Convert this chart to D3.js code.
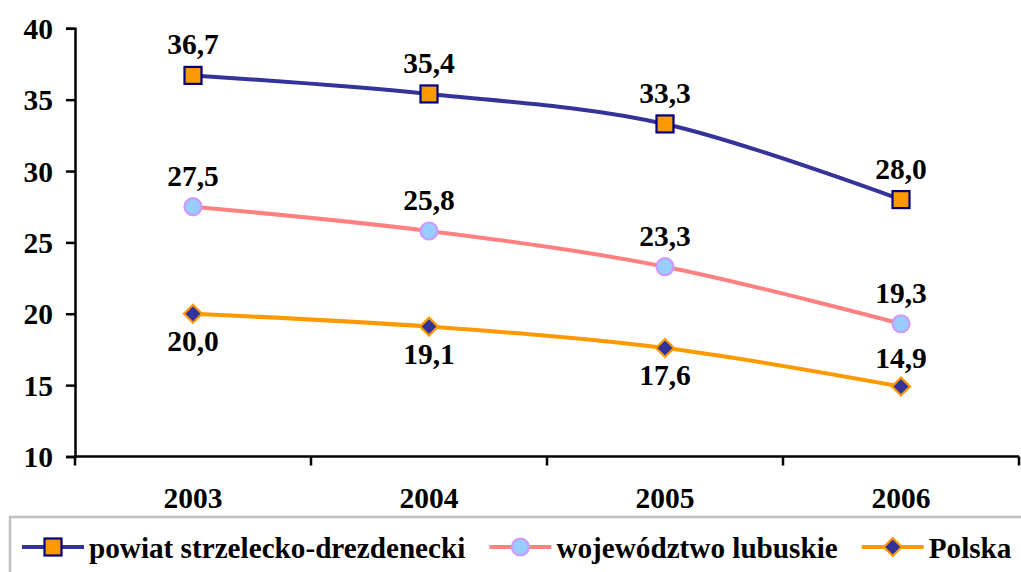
<!DOCTYPE html>
<html><head><meta charset="utf-8">
<script src="https://cdn.jsdelivr.net/npm/d3@7"></script>
<style>html,body{margin:0;padding:0;background:#fff;}svg{display:block;}
svg text{font-family:"Liberation Serif","Times New Roman",Tinos,serif;font-weight:bold;}</style>
</head><body>
<svg id="c" width="1021" height="572"></svg>
<script>
const years = ["2003","2004","2005","2006"];
const seriesNames = ["powiat strzelecko-drezdenecki","województwo lubuskie","Polska"];
const powiat = [36.7, 35.4, 33.3, 28.0];
const lubuskie = [27.5, 25.8, 23.3, 19.3];
const polska = [20.0, 19.1, 17.6, 14.9];
const yTicks = [10, 15, 20, 25, 30, 35, 40];

(function () {
const svg = d3.select("#c");
const fs = 29.5, lfs = 29.2;
const mLeft = 75, mRight = 1019, mTop = 28.3, mBottom = 456.5;

const x = d3.scaleBand().domain(years).range([mLeft, mRight]);
const y = d3.scaleLinear().domain([10, 40]).range([mBottom, mTop]);

// Y axis
const yAxis = svg.append("g").attr("transform", `translate(${mLeft},0)`)
  .call(d3.axisLeft(y).tickValues(yTicks).tickSize(9).tickPadding(13).tickFormat(d3.format("d")));
yAxis.attr("font-family", null).attr("font-size", null);
yAxis.select(".domain").attr("stroke", "#000").attr("stroke-width", 2.5);
yAxis.selectAll(".tick line").attr("stroke", "#000").attr("stroke-width", 2.5);
yAxis.selectAll("text").style("font-size", fs + "px").attr("fill", "#000").attr("dy", "0.34em");

// X axis
const xAxis = svg.append("g").attr("transform", `translate(0,${mBottom})`);
xAxis.append("line").attr("x1", mLeft - 1).attr("x2", mRight).attr("y1", 0).attr("y2", 0)
  .attr("stroke", "#000").attr("stroke-width", 2.5);
const bounds = years.map(d => x(d)).concat([mRight]);
xAxis.selectAll("line.t").data(bounds).enter().append("line").attr("class", "t")
  .attr("x1", d => d).attr("x2", d => d).attr("y1", 0).attr("y2", 9)
  .attr("stroke", "#000").attr("stroke-width", 2.5);
xAxis.selectAll("text").data(years).enter().append("text")
  .attr("x", d => x(d) + x.bandwidth() / 2).attr("y", 51.5)
  .attr("text-anchor", "middle").style("font-size", fs + "px")
  .text(d => d);

const cx = d => x(d) + x.bandwidth() / 2;
const series = [
  {name: seriesNames[0], values: powiat, color: "#333399", marker: "square", mfill: "#FF9900", mstroke: "#000080", labelOff: [-21, -21, -21, -21]},
  {name: seriesNames[1], values: lubuskie, color: "#FF8080", marker: "circle", mfill: "#99CCFF", mstroke: "#CC99FF", labelOff: [-21, -21, -21, -21]},
  {name: seriesNames[2], values: polska, color: "#FF9900", marker: "diamond", mfill: "#333399", mstroke: "#FF9900", labelOff: [37, 37, 37, -19]}
];

const line = d3.line().x(d => cx(d.year)).y(d => y(d.v)).curve(d3.curveCatmullRom.alpha(0));

function drawMarker(g, type, mfill, mstroke) {
  if (type === "square") {
    g.append("rect").attr("x", -8.5).attr("y", -8.5).attr("width", 17).attr("height", 17)
      .attr("fill", mfill).attr("stroke", mstroke).attr("stroke-width", 2.2);
  } else if (type === "circle") {
    g.append("circle").attr("r", 8.5).attr("fill", mfill).attr("stroke", mstroke).attr("stroke-width", 2.2);
  } else {
    g.append("path").attr("d", "M0,-9L9,0L0,9L-9,0Z").attr("fill", mfill).attr("stroke", mstroke).attr("stroke-width", 2.2);
  }
}

series.forEach(s => {
  const pts = years.map((yr, i) => ({year: yr, v: s.values[i], i}));
  svg.append("path").datum(pts).attr("d", line).attr("fill", "none")
    .attr("stroke", s.color).attr("stroke-width", 4);
  pts.forEach(p => {
    const g = svg.append("g").attr("transform", `translate(${cx(p.year)},${y(p.v)})`);
    drawMarker(g, s.marker, s.mfill, s.mstroke);
    svg.append("text").attr("x", cx(p.year)).attr("y", y(p.v) + s.labelOff[p.i])
      .attr("text-anchor", "middle").style("font-size", fs + "px")
      .text(d3.format(".1f")(p.v).replace(".", ","));
  });
});

// Legend
svg.append("rect").attr("x", 10).attr("y", 517).attr("width", 1030).attr("height", 80)
  .attr("fill", "#fff").attr("stroke", "#c0c0c0").attr("stroke-width", 2.5);
let lx = 22;
const ly = 547;
series.forEach(s => {
  const g = svg.append("g");
  g.append("line").attr("x1", lx).attr("x2", lx + 62).attr("y1", ly).attr("y2", ly)
    .attr("stroke", s.color).attr("stroke-width", 4);
  const mg = g.append("g").attr("transform", `translate(${lx + 31},${ly})`);
  drawMarker(mg, s.marker, s.mfill, s.mstroke);
  const t = g.append("text").attr("x", lx + 67).attr("y", ly + 10.5)
    .style("font-size", lfs + "px").text(s.name);
  lx = lx + 67 + t.node().getComputedTextLength() + 24;
});
})();
</script>
</body></html>
